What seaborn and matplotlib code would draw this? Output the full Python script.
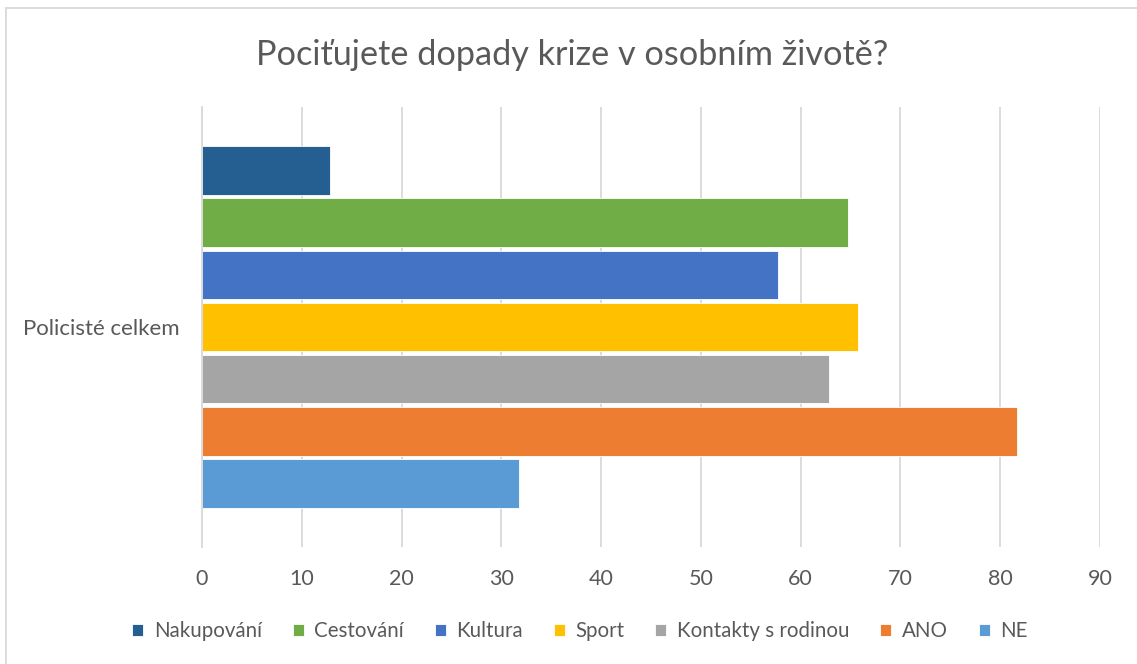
import matplotlib
matplotlib.use("Agg")
import matplotlib.pyplot as plt
from matplotlib.patches import Rectangle
import pandas as pd
import seaborn as sns

# data
skupina = "Policisté celkem"
kategorie = ["Nakupování", "Cestování", "Kultura", "Sport", "Kontakty s rodinou", "ANO", "NE"]
hodnoty = [12.8, 64.7, 57.7, 65.7, 62.8, 81.7, 31.8]
barvy = ["#255E91", "#70AD47", "#4472C4", "#FFC000", "#A5A5A5", "#ED7D31", "#5B9BD5"]
x_ticks = [0, 10, 20, 30, 40, 50, 60, 70, 80, 90]

df = pd.DataFrame({"skupina": [skupina] * len(kategorie), "kategorie": kategorie, "hodnota": hodnoty})

sns.set_theme(style="white")
plt.rcParams["font.family"] = ["Lato", "DejaVu Sans"]
text_col = "#595959"
grid_col = "#D9D9D9"

fig = plt.figure(figsize=(11.37, 6.64), dpi=100)
ax = fig.add_axes([202 / 1137, 1 - 547 / 664, (1100 - 202) / 1137, (547 - 107) / 664])

sns.barplot(data=df, y="skupina", x="hodnota", hue="kategorie", hue_order=kategorie,
            palette=barvy, orient="h", width=0.83, gap=0.07, edgecolor="white",
            linewidth=0.6, saturation=1, ax=ax)

handles, labels = ax.get_legend_handles_labels()
ax.get_legend().remove()

ax.set_xlim(0, 90)
ax.set_ylim(0.5, -0.5)
ax.set_xticks(x_ticks)
ax.set_xticklabels([str(t) for t in x_ticks])
ax.set_yticks([-0.5, 0.5])
ax.set_yticklabels(["", ""])
ax.set_yticks([0], minor=True)
ax.set_yticklabels([skupina], minor=True)
ax.set_xlabel("")
ax.set_ylabel("")

ax.xaxis.grid(True, color=grid_col, linewidth=1.3)
ax.yaxis.grid(False)
ax.set_axisbelow(True)
for s in ["top", "right", "bottom"]:
    ax.spines[s].set_visible(False)
ax.spines["left"].set_color(grid_col)
ax.spines["left"].set_linewidth(1.3)

ax.tick_params(axis="x", length=0, pad=16, labelsize=15.5, labelcolor=text_col)
ax.tick_params(axis="y", which="major", length=6, width=1.3, color=grid_col, direction="out")
ax.tick_params(axis="y", which="minor", length=0, pad=16, labelsize=16, labelcolor=text_col)

fig.text(0.503, 1 - 55 / 664, "Pociťujete dopady krize v osobním životě?",
         ha="center", va="center", fontsize=24.7, color=text_col)

fig.legend(handles, labels, loc="center", bbox_to_anchor=(0.51, 1 - 631 / 664), ncol=7,
           frameon=False, fontsize=14.8, labelcolor=text_col, handlelength=0.55,
           handleheight=0.55, handletextpad=0.5, columnspacing=1.5)

fig.add_artist(Rectangle((6 / 1137, -0.02), 1.1, (664 - 8) / 664 + 0.02,
                         transform=fig.transFigure, fill=False, edgecolor=grid_col, linewidth=1.3))

fig.savefig("out.png", dpi=100)
